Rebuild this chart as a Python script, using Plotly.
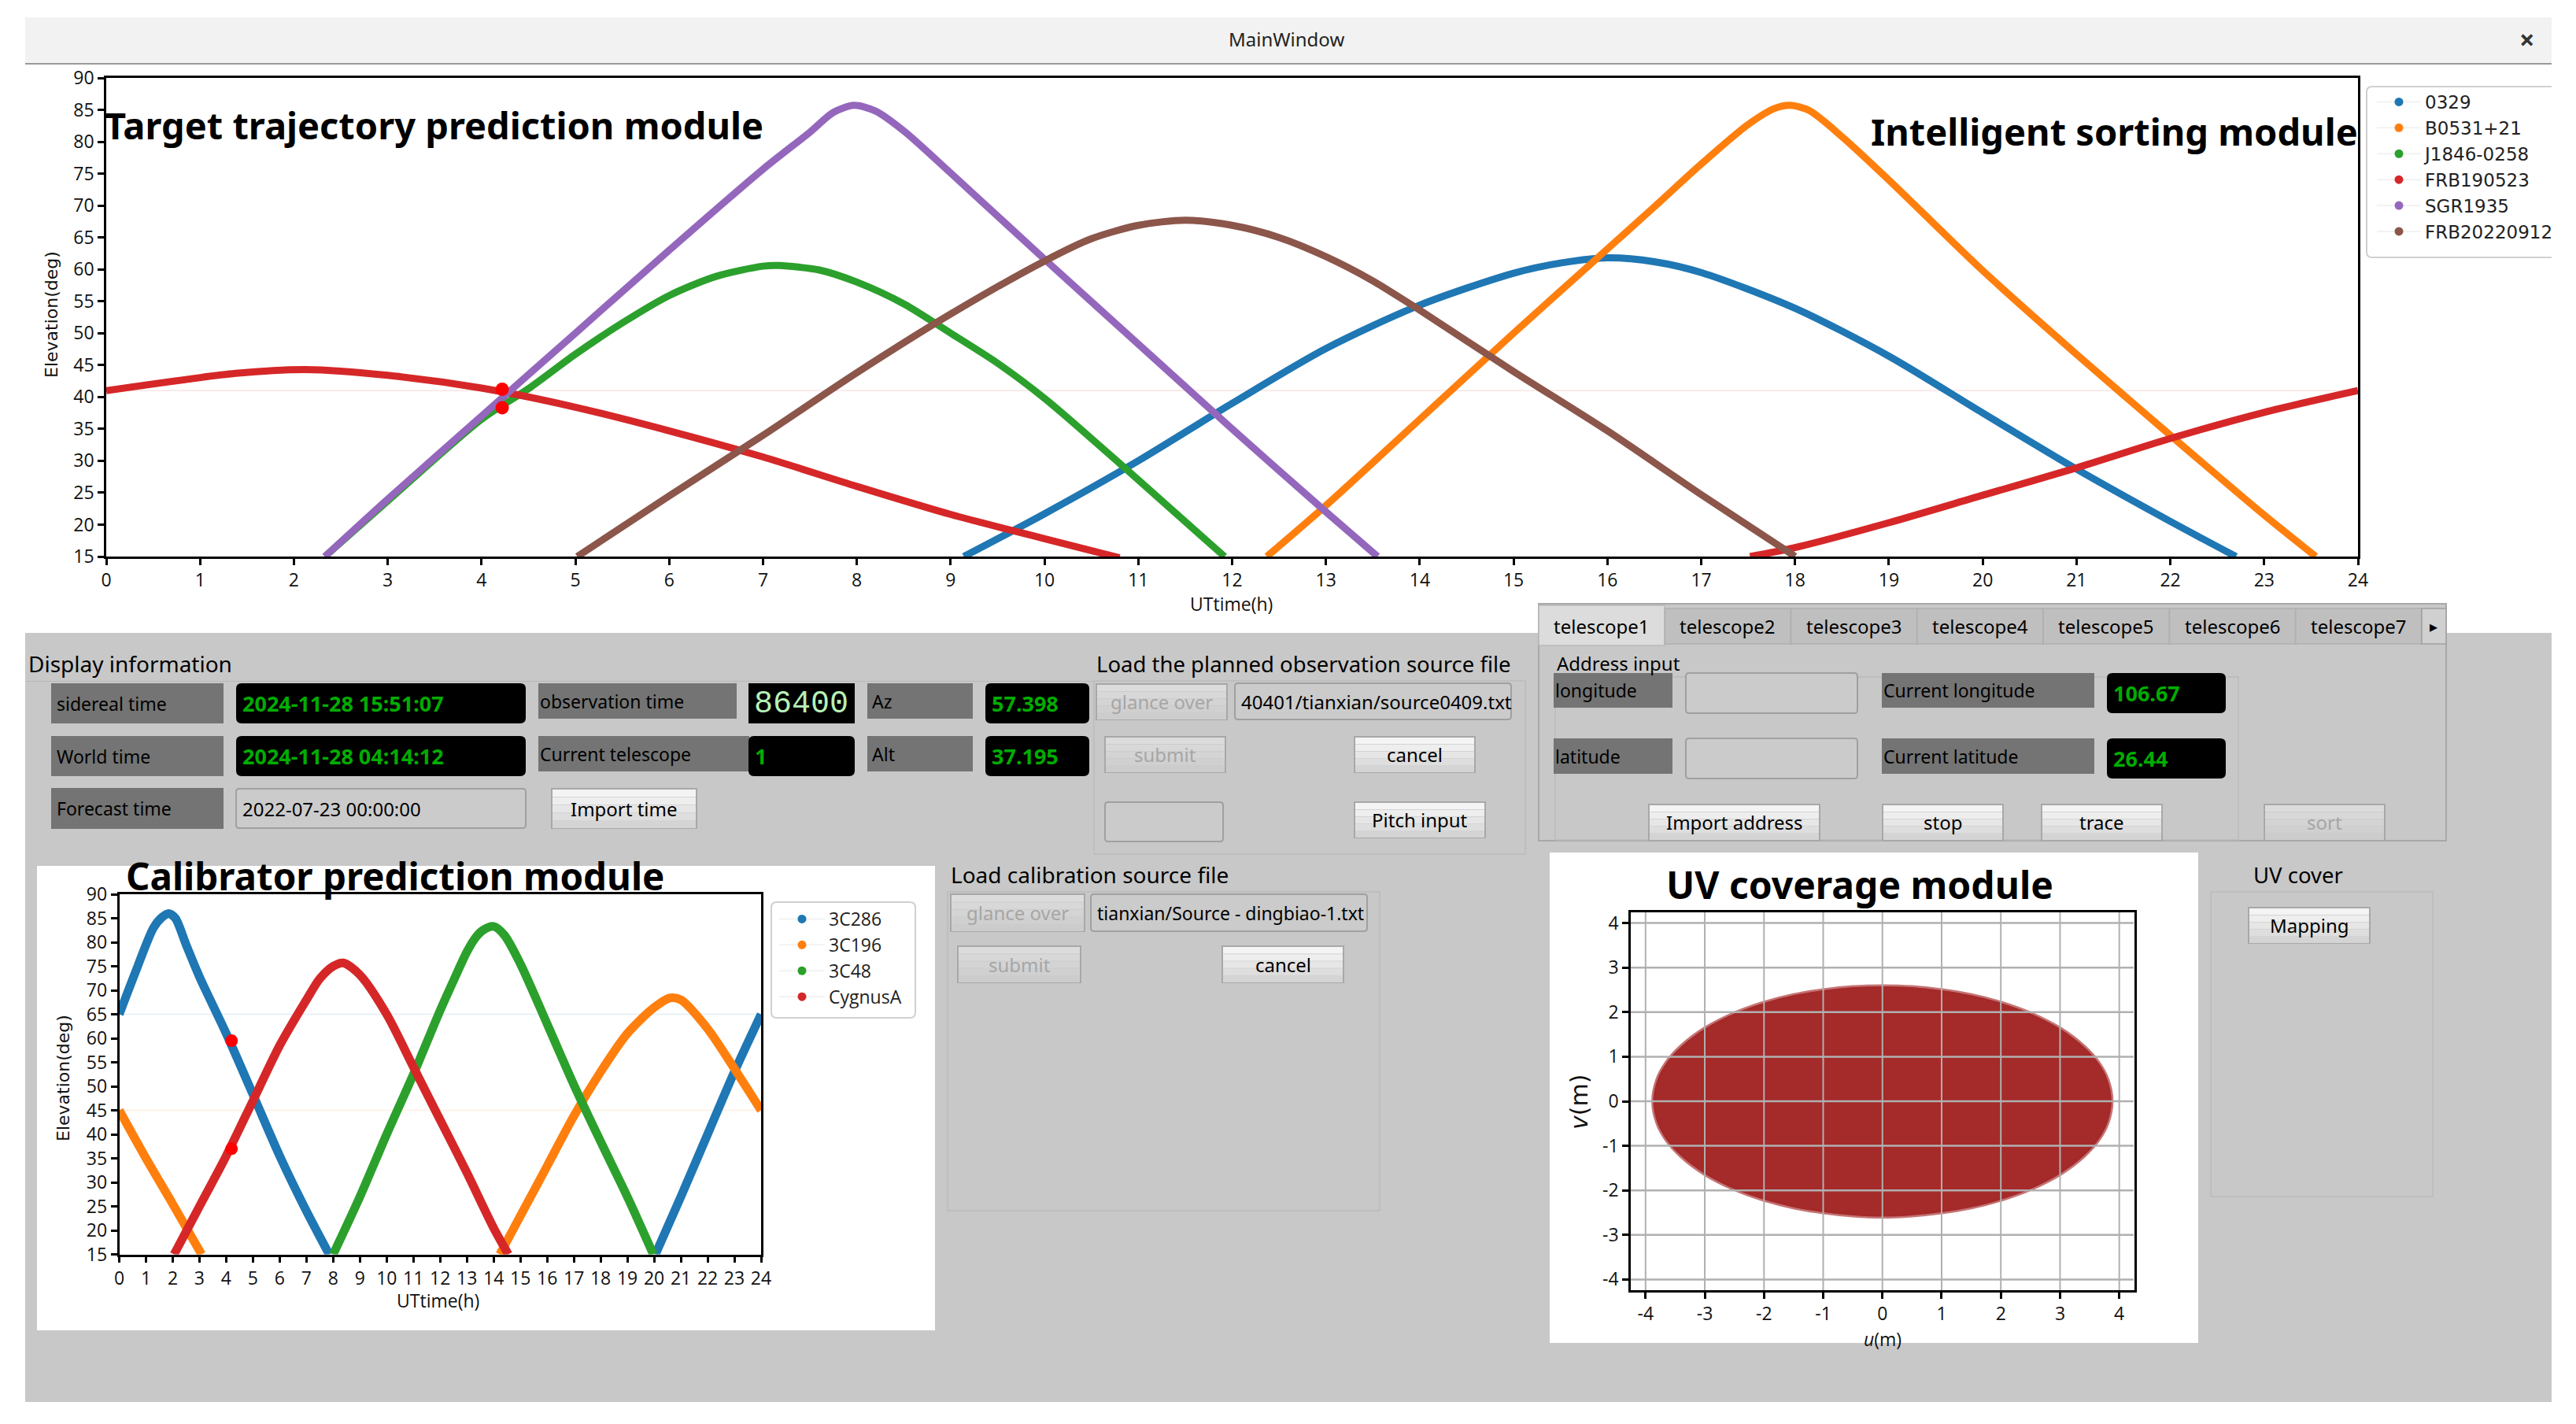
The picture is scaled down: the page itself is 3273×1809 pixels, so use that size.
import plotly.graph_objects as go

W, H = 3273, 1809

# Target trajectory chart, hours and elevation
src_names = ['0329', 'B0531+21', 'J1846-0258', 'FRB190523', 'SGR1935', 'FRB20220912']
src_colors = ['#1f77b4', '#ff7f0e', '#2ca02c', '#d62728', '#9467bd', '#8c564b']
t_0329 = [9.14, 10, 11, 12, 13, 14, 15, 15.5, 16, 16.5, 17, 18, 19, 20, 21, 22, 22.7]
e_0329 = [15, 21.7, 30, 39, 47.6, 54.4, 59.4, 61, 61.8, 61.2, 59.5, 53.9, 46.4, 37.5, 28.7, 20.5, 15]
t_b0531 = [12.37, 13, 14, 15, 16, 16.5, 17, 17.5, 17.78, 17.95, 18.15, 18.5, 19, 20, 21, 22, 23, 23.55]
e_b0531 = [15, 23, 36.5, 50, 63.2, 69.8, 76.5, 82.7, 85.2, 85.7, 84.9, 80.8, 74, 59.8, 46.7, 34, 21.5, 15]
t_j1846 = [2.33, 3, 4, 4.5, 5, 5.5, 6, 6.5, 7, 7.17, 7.6, 8, 8.5, 9, 9.5, 10, 10.5, 11, 11.92]
e_j1846 = [15, 23.7, 36.5, 41.3, 46.7, 51.6, 55.9, 58.9, 60.5, 60.6, 59.9, 58, 54.6, 50, 45.3, 39.8, 33.5, 27, 15]
t_frb19 = [0, 1.38, 2.13, 3, 4, 5, 6, 7, 8, 9, 10, 10.8, None, 17.52, 18, 19, 20, 21, 22, 23, 24]
e_frb19 = [41, 43.7, 44.3, 43.4, 41.4, 38.4, 34.7, 30.6, 26, 21.6, 17.8, 14.8, None, 15, 16.4, 20.3, 24.6, 28.9, 33.5, 37.6, 41]
t_sgr = [2.33, 3, 4, 5, 6, 7, 7.5, 7.75, 7.97, 8.2, 8.5, 9, 10, 11, 12, 13, 13.55]
e_sgr = [15, 24, 37, 50, 63, 75.7, 81.5, 84.6, 85.7, 84.8, 81.7, 75.1, 61.6, 48.3, 35, 22, 15]
t_frb22 = [5.02, 6, 7, 8, 9, 10, 10.5, 11, 11.5, 12, 12.5, 13, 13.5, 14, 15, 16, 17, 17.93, 18]
e_frb22 = [15, 24.5, 34, 43.8, 53, 61.3, 64.8, 66.9, 67.7, 66.9, 65, 62, 58.2, 53.6, 44, 34.7, 24.7, 15.7, 15]
now_t = [4.22, 4.22]
now_e = [41.2, 38.3]

# Calibrator chart
cal_names = ['3C286', '3C196', '3C48', 'CygnusA']
t_3c286 = [0, 0.6, 1.28, 1.6, 1.85, 2.1, 2.5, 3, 4, 5, 6, 7, 7.85, None, 20.05, 21, 22, 23, 24]
e_3c286 = [65, 73.7, 83, 85.2, 86, 85, 79.5, 72.8, 61, 48.3, 35.5, 24, 15, None, 15, 27, 40, 53, 65]
t_3c196 = [0, 1, 2, 3.08, None, 14.23, 15, 16, 17, 18, 19, 20, 20.6, 21, 22, 23, 24]
e_3c196 = [45, 35, 25.5, 15, None, 15, 23, 33.4, 43.8, 53, 61, 66.4, 68.4, 68, 62, 53.7, 45]
t_3c48 = [8, 9, 10, 11, 12, 12.5, 13, 13.33, 13.6, 14, 14.4, 15, 16, 17, 18, 19, 19.97]
e_3c48 = [15, 27, 40, 52.5, 65.8, 72, 78, 81, 82.5, 83.3, 81.5, 75.5, 63, 50.3, 38.5, 27, 15]
t_cyg = [2.05, 3, 4, 5, 6, 7, 7.5, 8, 8.38, 9, 10, 11, 12, 13, 14, 14.55]
e_cyg = [15, 25, 35.5, 47, 58.5, 68, 72.4, 75, 75.7, 73.2, 65, 54, 43, 32, 20.5, 15]
cal_now_t = [4.2, 4.2]
cal_now_e = [59.5, 37]

# UV coverage outline
uv_u = [-3.87, -3.8, -3.65, -3.4, -3.0, -2.5, -2.0, -1.5, -1.0, -0.5, 0, 0.5, 1.0, 1.5, 2.0, 2.5, 3.0, 3.4, 3.65, 3.8, 3.87,
        3.8, 3.65, 3.4, 3.0, 2.5, 2.0, 1.5, 1.0, 0.5, 0, -0.5, -1.0, -1.5, -2.0, -2.5, -3.0, -3.4, -3.65, -3.8, -3.87]
uv_v = [0, 0.49, 0.86, 1.23, 1.63, 1.97, 2.21, 2.38, 2.49, 2.56, 2.58, 2.56, 2.49, 2.38, 2.21, 1.97, 1.63, 1.23, 0.86, 0.49, 0,
        -0.49, -0.86, -1.23, -1.63, -1.97, -2.21, -2.38, -2.49, -2.56, -2.59, -2.56, -2.49, -2.38, -2.21, -1.97, -1.63, -1.23, -0.86, -0.49, 0]
uv_ticks = [-4, -3, -2, -1, 0, 1, 2, 3, 4]
uv_labels = ['-4', '-3', '-2', '-1', '0', '1', '2', '3', '4']

GRAY = '#c8c8c8'
UI = 'Noto Sans'
shapes, notes = [], []


def px(x):
    return x / W


def py(y):
    return 1 - y / H


def rect(x0, y0, x1, y1, fill, line=None, lw=1):
    shapes.append(dict(type='rect', xref='paper', yref='paper', x0=px(x0), x1=px(x1), y0=py(y0), y1=py(y1),
                       fillcolor=fill, line=dict(color=line or fill, width=lw if line else 0), layer='below'))


def rrect(x0, y0, x1, y1, fill, line=None, r=6, lw=1.5):
    # rounded box, for the legends and the black readouts
    X0, X1, Y0, Y1 = px(x0), px(x1), py(y0), py(y1)
    rx, ry = r / W, r / H
    path = (f'M{X0 + rx},{Y0} L{X1 - rx},{Y0} Q{X1},{Y0} {X1},{Y0 - ry} L{X1},{Y1 + ry} Q{X1},{Y1} {X1 - rx},{Y1} '
            f'L{X0 + rx},{Y1} Q{X0},{Y1} {X0},{Y1 + ry} L{X0},{Y0 - ry} Q{X0},{Y0} {X0 + rx},{Y0} Z')
    shapes.append(dict(type='path', xref='paper', yref='paper', path=path, fillcolor=fill,
                       line=dict(color=line or fill, width=lw if line else 0), layer='below'))


def text(x, y, s, size=24, color='black', anchor='left', font=UI, bold=False, angle=0):
    notes.append(dict(xref='paper', yref='paper', x=px(x), y=py(y), text=f'<b>{s}</b>' if bold else s, showarrow=False,
                      xanchor=anchor, yanchor='middle', textangle=angle, font=dict(family=font, size=size, color=color)))


def label(x0, y0, x1, y1, s, pad=10):
    rect(x0, y0, x1, y1, '#747474')
    text(x0 + pad, (y0 + y1) / 2, s, 23)


def readout(x0, y0, x1, y1, s):
    rrect(x0, y0, x1, y1, 'black', r=7)
    text(x0 + 6, (y0 + y1) / 2, s, 27, '#00ad00', bold=True)


def field(x0, y0, x1, y1, s='', color='black', size=24):
    rrect(x0, y0, x1, y1, '#cbcbcb', '#a0a0a0', r=4, lw=2)
    if s:
        text(x0 + 6, (y0 + y1) / 2, s, size, color)


def button(x0, y0, x1, y1, s, enabled=True):
    tops = ['#f4f4f4', '#eeeeee', '#e6e6e6', '#dedede', '#d4d4d4'] if enabled else ['#dcdcdc', '#d8d8d8', '#d4d4d4', '#d0d0d0', '#cccccc']
    rect(x0, y0, x1, y1, tops[-1], '#a8a8a8', 2)
    step = (y1 - y0) / len(tops)
    for i, c in enumerate(tops):
        rect(x0 + 1, y0 + 1 + i * step, x1 - 1, y0 + (i + 1) * step, c)
    text((x0 + x1) / 2, (y0 + y1) / 2, s, 24, 'black' if enabled else '#a6a6a6', 'center')


def box(x0, y0, x1, y1):
    rect(x0, y0, x1, y1, 'rgba(0,0,0,0)', '#bababa', 1.5)


# window background
rect(32, 22, 3242, 81, '#f2f2f2')
rect(32, 80, 3242, 82, '#9a9a96')
rect(32, 804, 3242, 1781, GRAY)
text(1634, 50, 'MainWindow', 24, '#222222', 'center')
text(3210, 50, '×', 34, '#333333', 'center', bold=True)

# display information
text(34, 843, 'Display information', 28)
rect(32, 865, 1390, 866, '#b8b8b8')
label(65, 868, 284, 919, 'sidereal time', 5)
readout(300, 868, 668, 919, '2024-11-28 15:51:07')
label(684, 868, 936, 913, 'observation time', 0)
rect(951, 868, 1086, 919, 'black')
text(1018, 894, '86400', 40, '#b6f0b6', 'center', font='Liberation Mono')
label(65, 935, 284, 986, 'World time', 5)
readout(300, 935, 668, 986, '2024-11-28 04:14:12')
label(684, 935, 952, 980, 'Current telescope', 0)
readout(951, 935, 1086, 986, '1')
label(65, 1001, 284, 1053, 'Forecast time', 5)
field(300, 1002, 668, 1052, '2022-07-23 00:00:00')
button(701, 1002, 885, 1052, 'Import time')
label(1102, 868, 1236, 913, 'Az', 4)
readout(1252, 868, 1384, 919, '57.398')
label(1102, 935, 1236, 980, 'Alt', 4)
readout(1252, 935, 1384, 986, '37.195')

# planned observation source file
text(1391, 843, 'Load the planned observation source file', 27.5)
box(1390, 865, 1938, 1085)
button(1393, 869, 1559, 914, 'glance over', False)
field(1569, 868, 1920, 914, '40401/tianxian/source0409.txt')
button(1404, 936, 1557, 981, 'submit', False)
button(1721, 936, 1874, 981, 'cancel')
field(1404, 1019, 1554, 1069)
button(1721, 1019, 1887, 1064, 'Pitch input')

# telescope tabs
rect(1955, 767, 3108, 1068, GRAY, '#a8a8a8', 2)
for i in range(7):
    x0 = 1955 + i * 160.3
    if i == 0:
        rect(x0, 769, x0 + 160, 820, '#dcdcdc', '#b8b8b8', 1.5)
    else:
        rect(x0, 773, x0 + 160, 818, '#bfbfbf', '#b0b0b0', 1.5)
    text(x0 + 80, 795, f'telescope{i + 1}', 24, 'black', 'center')
rect(3077, 773, 3108, 818, '#d0d0d0', '#a0a0a0', 1.5)
text(3092, 795, '▸', 20, 'black', 'center')
text(1976, 842, 'Address input', 24)
box(1976, 860, 2844, 1067)
label(1974, 855, 2125, 899, 'longitude', 0)
field(2142, 855, 2360, 906)
label(2391, 855, 2661, 899, 'Current longitude', 0)
readout(2677, 855, 2828, 906, '106.67')
label(1974, 938, 2125, 983, 'latitude', 0)
field(2142, 938, 2360, 989)
label(2391, 938, 2661, 983, 'Current latitude', 0)
readout(2677, 938, 2828, 989, '26.44')
button(2095, 1022, 2312, 1067, 'Import address')
button(2392, 1022, 2545, 1067, 'stop')
button(2594, 1022, 2747, 1067, 'trace')
button(2877, 1022, 3030, 1067, 'sort', False)

# calibration source file
text(1206, 1111, 'Load calibration source file', 28)
box(1204, 1133, 1753, 1538)
button(1208, 1136, 1378, 1183, 'glance over', False)
field(1386, 1136, 1737, 1183, 'tianxian/Source - dingbiao-1.txt', size=23)
button(1217, 1202, 1373, 1248, 'submit', False)
button(1553, 1202, 1707, 1248, 'cancel')

# UV cover panel
text(2861, 1111, 'UV cover', 27.5)
box(2809, 1133, 3091, 1520)
button(2857, 1153, 3011, 1198, 'Mapping')

# white chart panels and legend frames
rect(47, 1100, 1188, 1690, 'white')
rect(1969, 1083, 2793, 1706, 'white')
rrect(3007, 110, 3250, 327, 'white', '#d0d0d0', r=7, lw=2)
rect(3242, 100, 3273, 340, 'white')
rrect(980, 1146, 1163, 1293, 'white', '#d0d0d0', r=7, lw=2)

text(131, 159, 'Target trajectory prediction module', 47, bold=True)
text(2375, 167, 'Intelligent sorting module', 47, bold=True)
text(158, 1112, 'Calibrator prediction module', 47.5, bold=True)
text(2115, 1123, 'UV coverage module', 48, bold=True)
text(65, 400, 'Elevation(deg)', 22, '#111111', 'center', 'DejaVu Sans', angle=-90)
text(80, 1370, 'Elevation(deg)', 22, '#111111', 'center', 'DejaVu Sans', angle=-90)
text(2006, 1400, '<i>v</i>(m)', 30, '#111111', 'center', 'DejaVu Sans', angle=-90)
text(1564, 767, 'UTtime(h)', 23, '#111111', 'center', 'Open Sans')
text(556, 1652, 'UTtime(h)', 23, '#111111', 'center', 'Open Sans')
text(2392, 1701, '<i>u</i>(m)', 23, '#111111', 'center', 'Open Sans')

fig = go.Figure()

top_series = [(t_0329, e_0329), (t_b0531, e_b0531), (t_j1846, e_j1846), (t_frb19, e_frb19), (t_sgr, e_sgr), (t_frb22, e_frb22)]
# faint closing segment, last sample back to first
fig.add_trace(go.Scatter(x=[t_frb19[0], t_frb19[-1]], y=[e_frb19[0], e_frb19[-1]], mode='lines', xaxis='x', yaxis='y',
                         line=dict(color=src_colors[3], width=1.5), opacity=0.12, showlegend=False))
for name, color, (t, e) in zip(src_names, src_colors, top_series):
    fig.add_trace(go.Scatter(x=t, y=e, mode='lines', name=name, xaxis='x', yaxis='y', showlegend=False,
                             line=dict(color=color, width=9, shape='spline', smoothing=0.8)))
    fig.add_trace(go.Scatter(x=[None], y=[None], mode='lines+markers', name=name, xaxis='x', yaxis='y', legend='legend',
                             line=dict(color='rgba(0,0,0,0.05)', width=2), marker=dict(color=color, size=11)))
fig.add_trace(go.Scatter(x=now_t, y=now_e, mode='markers', xaxis='x', yaxis='y', showlegend=False,
                         marker=dict(color='#ff0000', size=17)))

cal_series = [(t_3c286, e_3c286), (t_3c196, e_3c196), (t_3c48, e_3c48), (t_cyg, e_cyg)]
for i in (0, 1):
    t, e = cal_series[i]
    fig.add_trace(go.Scatter(x=[t[0], t[-1]], y=[e[0], e[-1]], mode='lines', xaxis='x2', yaxis='y2',
                             line=dict(color=src_colors[i], width=1.5), opacity=0.12, showlegend=False))
for name, color, (t, e) in zip(cal_names, src_colors, cal_series):
    fig.add_trace(go.Scatter(x=t, y=e, mode='lines', name=name, xaxis='x2', yaxis='y2', showlegend=False,
                             line=dict(color=color, width=11, shape='spline', smoothing=0.8)))
    fig.add_trace(go.Scatter(x=[None], y=[None], mode='lines+markers', name=name, xaxis='x2', yaxis='y2', legend='legend2',
                             line=dict(color='rgba(0,0,0,0.05)', width=2), marker=dict(color=color, size=11)))
fig.add_trace(go.Scatter(x=cal_now_t, y=cal_now_e, mode='markers', xaxis='x2', yaxis='y2', showlegend=False,
                         marker=dict(color='#ff0000', size=16)))

fig.add_trace(go.Scatter(x=uv_u, y=uv_v, mode='lines', fill='toself', fillcolor='#a52a2a', xaxis='x3', yaxis='y3',
                         line=dict(color='rgba(165,42,42,0.65)', width=5, shape='spline', smoothing=1), showlegend=False))

# grid goes over the filled outline, as in the picture
for v in uv_ticks:
    shapes.append(dict(type='line', xref='x3', yref='paper', x0=v, x1=v, y0=py(1159), y1=py(1639), layer='above',
                       line=dict(color='#b0b0b0', width=2)))
    shapes.append(dict(type='line', xref='paper', yref='y3', x0=px(2072), x1=px(2711), y0=v, y1=v, layer='above',
                       line=dict(color='#b0b0b0', width=2.5)))

axis = dict(showgrid=False, zeroline=False, showline=True, mirror=True, linecolor='black', linewidth=2.5,
            ticks='outside', ticklen=8, tickwidth=2.5, tickcolor='black', tickfont=dict(family='Open Sans', size=23, color='#111111'))
hours = list(range(0, 25))
degs = list(range(15, 95, 5))

fig.update_layout(
    width=W, height=H, margin=dict(l=0, r=0, t=0, b=0, autoexpand=False), showlegend=True,
    paper_bgcolor='white', plot_bgcolor='rgba(0,0,0,0)',
    xaxis=dict(axis, domain=[px(135), px(2996)], anchor='y', range=[0, 24], tickvals=hours),
    yaxis=dict(axis, domain=[py(707), py(99)], anchor='x', range=[15, 90], tickvals=degs),
    xaxis2=dict(axis, domain=[px(151.5), px(967)], anchor='y2', range=[0, 24], tickvals=hours),
    yaxis2=dict(axis, domain=[py(1593.5), py(1136)], anchor='x2', range=[15, 90], tickvals=degs),
    xaxis3=dict(axis, domain=[px(2072), px(2711.5)], anchor='y3', range=[-4.25, 4.25], tickvals=uv_ticks, ticktext=uv_labels),
    yaxis3=dict(axis, domain=[py(1639), py(1159)], anchor='x3', range=[-4.24, 4.24], tickvals=uv_ticks, ticktext=uv_labels),
    legend=dict(x=px(3015), y=py(108), xanchor='left', yanchor='top', bgcolor='rgba(0,0,0,0)', itemwidth=56,
                font=dict(family='DejaVu Sans', size=23, color='#222222'), tracegroupgap=0),
    legend2=dict(x=px(985), y=py(1146), xanchor='left', yanchor='top', bgcolor='rgba(0,0,0,0)', itemwidth=58,
                 font=dict(family='Open Sans', size=23, color='#222222'), tracegroupgap=0),
    shapes=shapes, annotations=notes,
)

fig.write_html('out.html', config=dict(displayModeBar=False), post_script="document.body.style.margin='0';")
